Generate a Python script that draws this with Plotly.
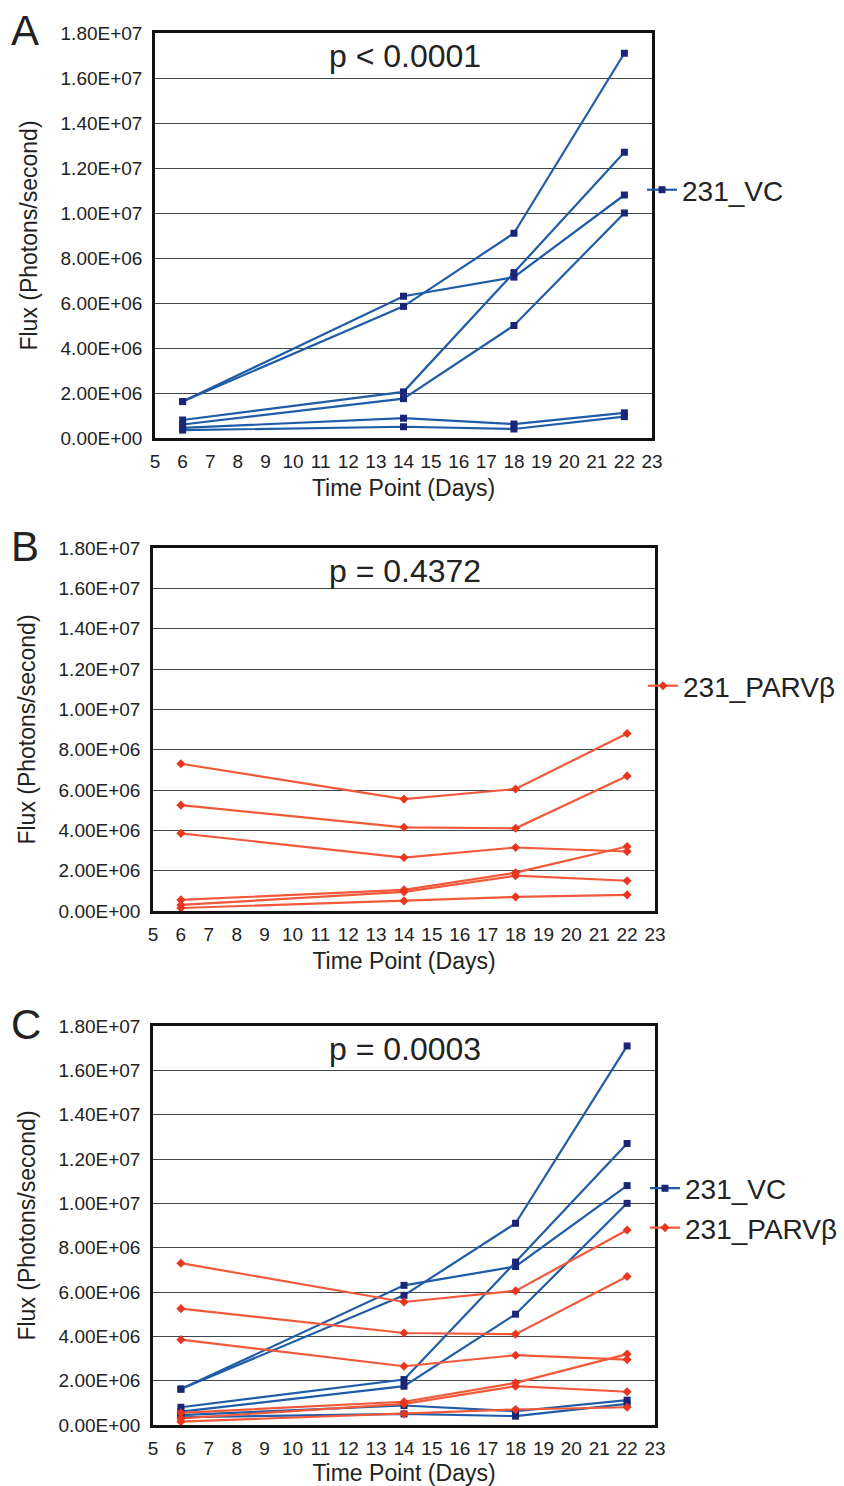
import plotly.graph_objects as go

# ---------------- data ----------------
days = [6, 14, 18, 22]

vc_1 = [1.62e6, 5.85e6, 9.10e6, 1.71e7]
vc_2 = [1.62e6, 6.30e6, 7.15e6, 1.08e7]
vc_3 = [0.80e6, 2.05e6, 7.35e6, 1.27e7]
vc_4 = [0.60e6, 1.75e6, 5.00e6, 1.00e7]
vc_5 = [0.45e6, 0.88e6, 0.62e6, 1.12e6]
vc_6 = [0.35e6, 0.50e6, 0.40e6, 0.95e6]

parv_1 = [7.30e6, 5.55e6, 6.05e6, 8.80e6]
parv_2 = [5.25e6, 4.15e6, 4.10e6, 6.70e6]
parv_3 = [3.85e6, 2.65e6, 3.15e6, 2.95e6]
parv_4 = [0.55e6, 1.05e6, 1.90e6, 3.20e6]
parv_5 = [0.30e6, 0.95e6, 1.75e6, 1.50e6]
parv_6 = [0.15e6, 0.50e6, 0.70e6, 0.80e6]

vc_series = [vc_1, vc_2, vc_3, vc_4, vc_5, vc_6]
parv_series = [parv_1, parv_2, parv_3, parv_4, parv_5, parv_6]

x_ticks = list(range(5, 24))
y_tickvals = [0, 2e6, 4e6, 6e6, 8e6, 1e7, 1.2e7, 1.4e7, 1.6e7, 1.8e7]
y_ticktext = ["0.00E+00", "2.00E+06", "4.00E+06", "6.00E+06", "8.00E+06",
              "1.00E+07", "1.20E+07", "1.40E+07", "1.60E+07", "1.80E+07"]

panel_letters = ["A", "B", "C"]
p_values = ["p < 0.0001", "p = 0.4372", "p = 0.0003"]
vc_name = "231_VC"
parv_name = "231_PARVβ"

# ---------------- style ----------------
W, H = 844, 1486
FONT = "Liberation Sans, Arial, sans-serif"
TXT = "#222222"
VC_LINE = "#1f5ca8"
VC_MARK = "#1b2578"
PV_LINE = "#f2593b"
PV_MARK = "#e8361f"
GRID = "#3e474b"

# panel geometry in pixels: (left, right, top, bottom)
panels = [(155, 652, 33, 438), (153, 655, 548, 911), (153, 655, 1026, 1425)]


def px_x(v):
    return v / W


def px_y(v):
    return 1 - v / H


fig = go.Figure()


def add_group(series, name, line_c, mark_c, symbol, size, ax, legend, show):
    for i, s in enumerate(series):
        fig.add_trace(go.Scatter(
            x=days, y=s, mode="lines+markers", name=name,
            legendgroup=name + legend, showlegend=(show and i == 0),
            line=dict(color=line_c, width=2.2),
            marker=dict(color=mark_c, symbol=symbol, size=size,
                        line=dict(width=0)),
            xaxis="x" + ax, yaxis="y" + ax, legend=legend,
        ))


add_group(vc_series, vc_name, VC_LINE, VC_MARK, "square", 7, "", "legend", True)
add_group(parv_series, parv_name, PV_LINE, PV_MARK, "diamond", 7, "2", "legend2", True)
add_group(vc_series, vc_name, VC_LINE, VC_MARK, "square", 7, "3", "legend3", True)
add_group(parv_series, parv_name, PV_LINE, PV_MARK, "diamond", 7, "3", "legend3", True)

layout = dict(
    width=W, height=H,
    margin=dict(l=0, r=0, t=0, b=0, pad=0),
    paper_bgcolor="white", plot_bgcolor="white",
    font=dict(family=FONT, color=TXT),
    annotations=[],
)

for k, (l, r, t, b) in enumerate(panels):
    suf = "" if k == 0 else str(k + 1)
    layout["xaxis" + suf] = dict(
        domain=[px_x(l), px_x(r)], range=[5, 23], automargin=False,
        anchor="y" + suf, tickmode="array", tickvals=x_ticks,
        ticks="outside", ticklen=4, tickcolor="rgba(0,0,0,0)",
        tickfont=dict(size=19, family=FONT, color=TXT),
        showgrid=False, zeroline=False,
        showline=True, linecolor="#111111", linewidth=2.5, mirror=True,
        title=dict(text="Time Point (Days)", standoff=10,
                   font=dict(size=23, family=FONT, color=TXT)),
    )
    layout["yaxis" + suf] = dict(
        domain=[px_y(b), px_y(t)], range=[0, 1.8e7], automargin=False,
        anchor="x" + suf, tickmode="array", tickvals=y_tickvals,
        ticktext=y_ticktext,
        ticks="outside", ticklen=6, tickcolor="rgba(0,0,0,0)",
        tickfont=dict(size=19, family=FONT, color=TXT),
        showgrid=True, gridcolor=GRID, gridwidth=1.3, zeroline=False,
        showline=True, linecolor="#111111", linewidth=2.5, mirror=True,
        title=dict(text="Flux (Photons/second)", standoff=17,
                   font=dict(size=23, family=FONT, color=TXT)),
    )
    layout["annotations"].append(dict(
        text=panel_letters[k], x=px_x(9), y=px_y(t - 2),
        xref="paper", yref="paper", xanchor="left", yanchor="middle",
        showarrow=False, font=dict(size=42, family=FONT, color=TXT)))
    layout["annotations"].append(dict(
        text=p_values[k], x=px_x(405), y=px_y(t + 23),
        xref="paper", yref="paper", xanchor="center", yanchor="middle",
        showarrow=False, font=dict(size=32, family=FONT, color=TXT)))

leg_common = dict(xanchor="left", yanchor="middle", bgcolor="rgba(0,0,0,0)",
                  font=dict(size=28, family=FONT, color=TXT),
                  itemwidth=30, tracegroupgap=0, borderwidth=0)
layout["legend"] = dict(x=px_x(642), y=px_y(190), **leg_common)
layout["legend2"] = dict(x=px_x(643), y=px_y(686), **leg_common)
layout["legend3"] = dict(x=px_x(645), y=px_y(1208), **leg_common)

fig.update_layout(**layout)
fig.write_html("out.html", config={"displayModeBar": False},
               post_script="document.body.style.margin='0px';")
